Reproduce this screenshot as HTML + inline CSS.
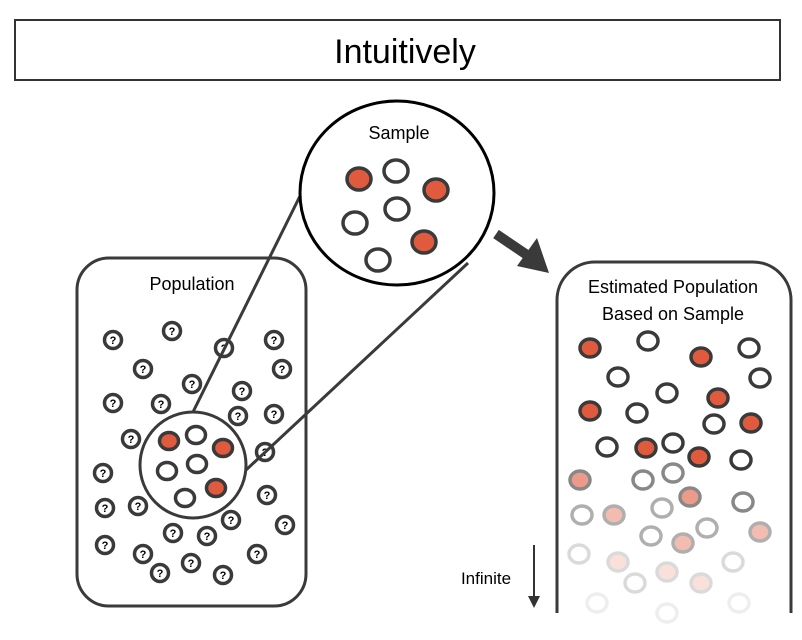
<!DOCTYPE html>
<html><head><meta charset="utf-8"><style>body{margin:0;background:#fff}svg{display:block}text{font-family:"Liberation Sans",sans-serif}</style></head><body>
<svg width="802" height="640" viewBox="0 0 802 640" xmlns="http://www.w3.org/2000/svg">
<rect x="15" y="20" width="765" height="60" fill="#fff" stroke="#333" stroke-width="2"/>
<text x="405" y="63" font-size="34" text-anchor="middle" fill="#000">Intuitively</text>
<rect x="77" y="258" width="229" height="348" rx="32" fill="#fff" stroke="#3a3a3a" stroke-width="3"/>
<text x="192" y="290" font-size="18" text-anchor="middle">Population</text>
<path d="M557,613 V300 a38,38 0 0 1 38,-38 H753 a38,38 0 0 1 38,38 V613" fill="#fff" stroke="#3a3a3a" stroke-width="3"/>
<text x="673" y="293" font-size="18" text-anchor="middle">Estimated Population</text>
<text x="673" y="320" font-size="18" text-anchor="middle">Based on Sample</text>
<g fill="#fff" stroke="#3a3a3a" stroke-width="3.5">
<g id="q"></g>
</g>
<g font-size="11" font-weight="bold" text-anchor="middle" fill="#000">
<script>
</script>
</g>
<g stroke="#3a3a3a" stroke-width="3.5">
<circle cx="113" cy="340" r="8.5" fill="#fff"/><circle cx="172" cy="331" r="8.5" fill="#fff"/><circle cx="224" cy="348" r="8.5" fill="#fff"/><circle cx="274" cy="340" r="8.5" fill="#fff"/>
<circle cx="143" cy="369" r="8.5" fill="#fff"/><circle cx="282" cy="369" r="8.5" fill="#fff"/><circle cx="192" cy="384" r="8.5" fill="#fff"/>
<circle cx="113" cy="403" r="8.5" fill="#fff"/><circle cx="161" cy="404" r="8.5" fill="#fff"/><circle cx="242" cy="391" r="8.5" fill="#fff"/><circle cx="238" cy="416" r="8.5" fill="#fff"/><circle cx="274" cy="414" r="8.5" fill="#fff"/>
<circle cx="131" cy="439" r="8.5" fill="#fff"/><circle cx="265" cy="452" r="8.5" fill="#fff"/>
<circle cx="103" cy="473" r="8.5" fill="#fff"/><circle cx="267" cy="495" r="8.5" fill="#fff"/><circle cx="285" cy="525" r="8.5" fill="#fff"/>
<circle cx="105" cy="508" r="8.5" fill="#fff"/><circle cx="138" cy="506" r="8.5" fill="#fff"/><circle cx="231" cy="520" r="8.5" fill="#fff"/>
<circle cx="173" cy="533" r="8.5" fill="#fff"/><circle cx="207" cy="536" r="8.5" fill="#fff"/><circle cx="105" cy="545" r="8.5" fill="#fff"/><circle cx="143" cy="554" r="8.5" fill="#fff"/><circle cx="257" cy="554" r="8.5" fill="#fff"/>
<circle cx="160" cy="573" r="8.5" fill="#fff"/><circle cx="191" cy="563" r="8.5" fill="#fff"/><circle cx="223" cy="575" r="8.5" fill="#fff"/>
</g>
<g font-size="11" font-weight="bold" text-anchor="middle" fill="#000">
<text x="113" y="344">?</text><text x="172" y="335">?</text><text x="224" y="352">?</text><text x="274" y="344">?</text>
<text x="143" y="373">?</text><text x="282" y="373">?</text><text x="192" y="388">?</text>
<text x="113" y="407">?</text><text x="161" y="408">?</text><text x="242" y="395">?</text><text x="238" y="420">?</text><text x="274" y="418">?</text>
<text x="131" y="443">?</text><text x="265" y="456">?</text>
<text x="103" y="477">?</text><text x="267" y="499">?</text><text x="285" y="529">?</text>
<text x="105" y="512">?</text><text x="138" y="510">?</text><text x="231" y="524">?</text>
<text x="173" y="537">?</text><text x="207" y="540">?</text><text x="105" y="549">?</text><text x="143" y="558">?</text><text x="257" y="558">?</text>
<text x="160" y="577">?</text><text x="191" y="567">?</text><text x="223" y="579">?</text>
</g>
<circle cx="193" cy="465" r="53" fill="none" stroke="#3a3a3a" stroke-width="3"/>
<g stroke="#3a3a3a" stroke-width="3.5">
<ellipse cx="169" cy="441" rx="9.5" ry="8.5" fill="#e05a3e"/><ellipse cx="196" cy="435" rx="9.5" ry="8.5" fill="#fff"/><ellipse cx="223" cy="448" rx="9.5" ry="8.5" fill="#e05a3e"/>
<ellipse cx="167" cy="471" rx="9.5" ry="8.5" fill="#fff"/><ellipse cx="197" cy="464" rx="9.5" ry="8.5" fill="#fff"/><ellipse cx="216" cy="488" rx="9.5" ry="8.5" fill="#e05a3e"/><ellipse cx="185" cy="498" rx="9.5" ry="8.5" fill="#fff"/>
</g>
<line x1="193" y1="412" x2="300" y2="196" stroke="#3a3a3a" stroke-width="3"/>
<line x1="246" y1="470" x2="468" y2="263" stroke="#3a3a3a" stroke-width="3"/>
<ellipse cx="397" cy="193" rx="97" ry="92" fill="#fff" stroke="#000" stroke-width="3"/>
<text x="399" y="139" font-size="18" text-anchor="middle">Sample</text>
<g stroke="#3a3a3a" stroke-width="3.5">
<ellipse cx="359" cy="179" rx="12" ry="11" fill="#e05a3e"/><ellipse cx="396" cy="171" rx="12" ry="11" fill="#fff"/><ellipse cx="436" cy="190" rx="12" ry="11" fill="#e05a3e"/>
<ellipse cx="355" cy="223" rx="12" ry="11" fill="#fff"/><ellipse cx="397" cy="209" rx="12" ry="11" fill="#fff"/><ellipse cx="424" cy="242" rx="12" ry="11" fill="#e05a3e"/><ellipse cx="378" cy="260" rx="12" ry="11" fill="#fff"/>
</g>
<line x1="496" y1="234" x2="530" y2="257" stroke="#3a3a3a" stroke-width="10"/>
<polygon points="549,273 517,266 537,238" fill="#3a3a3a"/>
<g stroke="#3a3a3a" stroke-width="3.5">
<g>
<ellipse cx="590" cy="348" rx="10" ry="9" fill="#e05a3e"/><ellipse cx="648" cy="341" rx="10" ry="9" fill="#fff"/><ellipse cx="701" cy="357" rx="10" ry="9" fill="#e05a3e"/><ellipse cx="749" cy="348" rx="10" ry="9" fill="#fff"/>
<ellipse cx="618" cy="377" rx="10" ry="9" fill="#fff"/><ellipse cx="760" cy="378" rx="10" ry="9" fill="#fff"/><ellipse cx="667" cy="393" rx="10" ry="9" fill="#fff"/><ellipse cx="718" cy="398" rx="10" ry="9" fill="#e05a3e"/>
<ellipse cx="590" cy="411" rx="10" ry="9" fill="#e05a3e"/><ellipse cx="637" cy="413" rx="10" ry="9" fill="#fff"/><ellipse cx="714" cy="424" rx="10" ry="9" fill="#fff"/><ellipse cx="751" cy="423" rx="10" ry="9" fill="#e05a3e"/>
<ellipse cx="607" cy="447" rx="10" ry="9" fill="#fff"/><ellipse cx="646" cy="448" rx="10" ry="9" fill="#e05a3e"/><ellipse cx="673" cy="443" rx="10" ry="9" fill="#fff"/><ellipse cx="699" cy="457" rx="10" ry="9" fill="#e05a3e"/><ellipse cx="741" cy="460" rx="10" ry="9" fill="#fff"/>
</g>
<g opacity="0.6">
<ellipse cx="580" cy="480" rx="10" ry="9" fill="#e05a3e"/><ellipse cx="643" cy="480" rx="10" ry="9" fill="#fff"/><ellipse cx="673" cy="473" rx="10" ry="9" fill="#fff"/><ellipse cx="690" cy="497" rx="10" ry="9" fill="#e05a3e"/><ellipse cx="743" cy="502" rx="10" ry="9" fill="#fff"/>
</g>
<g opacity="0.4">
<ellipse cx="582" cy="515" rx="10" ry="9" fill="#fff"/><ellipse cx="614" cy="515" rx="10" ry="9" fill="#e05a3e"/><ellipse cx="662" cy="508" rx="10" ry="9" fill="#fff"/><ellipse cx="651" cy="536" rx="10" ry="9" fill="#fff"/><ellipse cx="683" cy="543" rx="10" ry="9" fill="#e05a3e"/><ellipse cx="707" cy="528" rx="10" ry="9" fill="#fff"/><ellipse cx="760" cy="532" rx="10" ry="9" fill="#e05a3e"/>
</g>
<g opacity="0.18">
<ellipse cx="579" cy="554" rx="10" ry="9" fill="#fff"/><ellipse cx="618" cy="562" rx="10" ry="9" fill="#e05a3e"/><ellipse cx="667" cy="572" rx="10" ry="9" fill="#e05a3e"/><ellipse cx="733" cy="562" rx="10" ry="9" fill="#fff"/><ellipse cx="635" cy="583" rx="10" ry="9" fill="#fff"/><ellipse cx="701" cy="583" rx="10" ry="9" fill="#e05a3e"/>
</g>
<g opacity="0.08">
<ellipse cx="597" cy="603" rx="10" ry="9" fill="#fff"/><ellipse cx="667" cy="613" rx="10" ry="9" fill="#fff"/><ellipse cx="739" cy="603" rx="10" ry="9" fill="#fff"/>
</g>
</g>
<text x="486" y="584" font-size="17" text-anchor="middle">Infinite</text>
<line x1="534" y1="545" x2="534" y2="598" stroke="#333" stroke-width="2"/>
<polygon points="528,596 540,596 534,608" fill="#333"/>
</svg>
</body></html>
